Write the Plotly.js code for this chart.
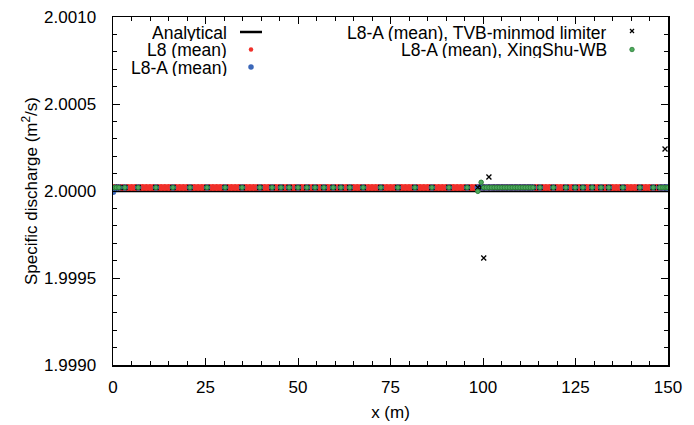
<!DOCTYPE html>
<html>
<head>
<meta charset="utf-8">
<script src="https://cdn.plot.ly/plotly-3.0.1.min.js"></script>
<style>html,body{margin:0;padding:0;background:#fff;}#chart{width:694px;height:425px;}</style>
</head>
<body>
<div id="chart"></div>
<script>
// ---- data ----
const analyticalX = [0, 150];
const analyticalY = [2.0000, 2.0000];

// L8 (mean): uniform mesh, 1 m spacing
const l8X = [0,1,2,3,4,5,6,7,8,9,10,11,12,13,14,15,16,17,18,19,20,21,22,23,24,25,26,27,28,29,30,31,32,33,34,35,36,37,38,39,40,41,42,43,44,45,46,47,48,49,50,51,52,53,54,55,56,57,58,59,60,61,62,63,64,65,66,67,68,69,70,71,72,73,74,75,76,77,78,79,80,81,82,83,84,85,86,87,88,89,90,91,92,93,94,95,96,97,98,99,100,101,102,103,104,105,106,107,108,109,110,111,112,113,114,115,116,117,118,119,120,121,122,123,124,125,126,127,128,129,130,131,132,133,134,135,136,137,138,139,140,141,142,143,144,145,146,147,148,149,150];
const l8Y = [2.00002,2.00002,2.00002,2.00002,2.00002,2.00002,2.00002,2.00002,2.00002,2.00002,2.00002,2.00002,2.00002,2.00002,2.00002,2.00002,2.00002,2.00002,2.00002,2.00002,2.00002,2.00002,2.00002,2.00002,2.00002,2.00002,2.00002,2.00002,2.00002,2.00002,2.00002,2.00002,2.00002,2.00002,2.00002,2.00002,2.00002,2.00002,2.00002,2.00002,2.00002,2.00002,2.00002,2.00002,2.00002,2.00002,2.00002,2.00002,2.00002,2.00002,2.00002,2.00002,2.00002,2.00002,2.00002,2.00002,2.00002,2.00002,2.00002,2.00002,2.00002,2.00002,2.00002,2.00002,2.00002,2.00002,2.00002,2.00002,2.00002,2.00002,2.00002,2.00002,2.00002,2.00002,2.00002,2.00002,2.00002,2.00002,2.00002,2.00002,2.00002,2.00002,2.00002,2.00002,2.00002,2.00002,2.00002,2.00002,2.00002,2.00002,2.00002,2.00002,2.00002,2.00002,2.00002,2.00002,2.00002,2.00002,2.00002,2.00002,2.00002,2.00002,2.00002,2.00002,2.00002,2.00002,2.00002,2.00002,2.00002,2.00002,2.00002,2.00002,2.00002,2.00002,2.00002,2.00002,2.00002,2.00002,2.00002,2.00002,2.00002,2.00002,2.00002,2.00002,2.00002,2.00002,2.00002,2.00002,2.00002,2.00002,2.00002,2.00002,2.00002,2.00002,2.00002,2.00002,2.00002,2.00002,2.00002,2.00002,2.00002,2.00002,2.00002,2.00002,2.00002,2.00002,2.00002,2.00002,2.00002,2.00002,2.00002];

// L8-A adaptive mesh
const meshX = [0,0.4,0.9,1.6,3.2,6.8,11.6,16.2,20.8,25.4,30.3,34.9,39.7,43,45.4,47.6,50,52.4,54.6,57,59.5,61.6,64,67.6,72.4,77,81.6,86.2,90.8,95.7,98.6,99.5,100.2,100.9,101.6,102.3,103,103.7,104.4,105.1,105.8,106.5,107.2,107.9,108.6,109.3,110,110.7,111.4,112.1,112.8,113.5,115.4,119,122.4,124.9,127,129.5,131.9,134,137.8,142.4,146,147.8,148.6,149.2,149.7,150];
const l8aY = [1.999995,2.00001,2.00002,2.00002,2.00002,2.00002,2.00002,2.00002,2.00002,2.00002,2.00002,2.00002,2.00002,2.00002,2.00002,2.00002,2.00002,2.00002,2.00002,2.00002,2.00002,2.00002,2.00002,2.00002,2.00002,2.00002,2.00002,2.00002,2.00002,2.00002,2.00002,2.00002,2.00002,2.00002,2.00002,2.00002,2.00002,2.00002,2.00002,2.00002,2.00002,2.00002,2.00002,2.00002,2.00002,2.00002,2.00002,2.00002,2.00002,2.00002,2.00002,2.00002,2.00002,2.00002,2.00002,2.00002,2.00002,2.00002,2.00002,2.00002,2.00002,2.00002,2.00002,2.00002,2.00002,2.00002,2.00002,2.00002];
const tvbY = [2.00002,2.00002,2.00002,2.00002,2.00002,2.00002,2.00002,2.00002,2.00002,2.00002,2.00002,2.00002,2.00002,2.00002,2.00002,2.00002,2.00002,2.00002,2.00002,2.00002,2.00002,2.00002,2.00002,2.00002,2.00002,2.00002,2.00002,2.00002,2.00002,2.00002,2.00002,2.00002,1.999615,2.00002,2.00008,2.00002,2.00002,2.00002,2.00002,2.00002,2.00002,2.00002,2.00002,2.00002,2.00002,2.00002,2.00002,2.00002,2.00002,2.00002,2.00002,2.00002,2.00002,2.00002,2.00002,2.00002,2.00002,2.00002,2.00002,2.00002,2.00002,2.00002,2.00002,2.00002,2.00002,2.000241,2.00002,2.00002];
const xsY = [2.00002,2.00002,2.00002,2.00002,2.00002,2.00002,2.00002,2.00002,2.00002,2.00002,2.00002,2.00002,2.00002,2.00002,2.00002,2.00002,2.00002,2.00002,2.00002,2.00002,2.00002,2.00002,2.00002,2.00002,2.00002,2.00002,2.00002,2.00002,2.00002,2.00002,1.999998,2.00005,2.00002,2.00002,2.00002,2.00002,2.00002,2.00002,2.00002,2.00002,2.00002,2.00002,2.00002,2.00002,2.00002,2.00002,2.00002,2.00002,2.00002,2.00002,2.00002,2.00002,2.00002,2.00002,2.00002,2.00002,2.00002,2.00002,2.00002,2.00002,2.00002,2.00002,2.00002,2.00002,2.00002,2.00002,2.00002,2.00002];

const legendLabels = ["Analytical", "L8 (mean)", "L8-A (mean)", "L8-A (mean), TVB-minmod limiter", "L8-A (mean), XingShu-WB"];
const xTicks = [0, 25, 50, 75, 100, 125, 150];
const yTicks = [1.9990, 1.9995, 2.0000, 2.0005, 2.0010];

// ---- styling ----
const RED = '#f0302a', BLUE = '#3b67b9', GREEN = '#4cab5b', DKGREEN = '#2e7d3c';
const FONT = 'Liberation Sans, Arial, Helvetica, sans-serif';

const traces = [
  {x: analyticalX, y: analyticalY, mode: 'lines', line: {color: '#000', width: 2.5}, showlegend: false, hoverinfo: 'skip'},
  {x: l8X, y: l8Y, mode: 'markers', marker: {color: RED, size: 7, line: {width: 0}}, showlegend: false},
  {x: meshX, y: l8aY, mode: 'markers', marker: {color: BLUE, size: 6.5, line: {width: 0}}, showlegend: false},
  {x: meshX, y: tvbY, mode: 'markers', marker: {symbol: 'x-thin', color: '#000', size: 5, line: {color: '#000', width: 1.3}}, showlegend: false},
  {x: meshX, y: xsY, mode: 'markers', marker: {color: GREEN, size: 4.5, line: {color: DKGREEN, width: 1}}, showlegend: false}
];

// plot area in pixels
const L = 113, R = 668, T = 17, B = 365;
const px = v => (v - L) / (R - L);
const py = v => (B - v) / (B - T);

const annotations = [];
const shapes = [];
const leg = [
  {lab: legendLabels[0], tx: 228, y: 32, sx: 251, kind: 'line'},
  {lab: legendLabels[1], tx: 228, y: 49.5, sx: 251, kind: 'dot', c: RED, d: 4.5},
  {lab: legendLabels[2], tx: 228, y: 67, sx: 251, kind: 'dot', c: BLUE, d: 5.5},
  {lab: legendLabels[3], tx: 608, y: 32, sx: 632, kind: 'x'},
  {lab: legendLabels[4], tx: 608, y: 49.5, sx: 632, kind: 'dot', c: GREEN, d: 4.5, lc: DKGREEN}
];
leg.forEach(e => {
  annotations.push({xref: 'paper', yref: 'paper', x: px(e.tx), y: py(e.y), xanchor: 'right', yanchor: 'middle',
    text: e.lab, showarrow: false, borderpad: 0, height: 17, valign: 'middle',
    font: {family: FONT, size: 17.5, color: '#000'}});
  if (e.kind === 'line') {
    shapes.push({type: 'line', xref: 'paper', yref: 'paper', x0: px(e.sx - 11), x1: px(e.sx + 11), y0: py(e.y), y1: py(e.y), line: {color: '#000', width: 2.5}});
  } else if (e.kind === 'dot') {
    const r = e.d / 2;
    shapes.push({type: 'circle', xref: 'paper', yref: 'paper', x0: px(e.sx - r), x1: px(e.sx + r), y0: py(e.y + r), y1: py(e.y - r),
      fillcolor: e.c, line: {color: e.lc || e.c, width: e.lc ? 0.8 : 0}});
  } else {
    const r = 2;
    shapes.push({type: 'line', xref: 'paper', yref: 'paper', x0: px(e.sx - r), x1: px(e.sx + r), y0: py(e.y - 1 - r), y1: py(e.y - 1 + r), line: {color: '#000', width: 1.2}});
    shapes.push({type: 'line', xref: 'paper', yref: 'paper', x0: px(e.sx - r), x1: px(e.sx + r), y0: py(e.y - 1 + r), y1: py(e.y - 1 - r), line: {color: '#000', width: 1.2}});
  }
});

const axisCommon = {
  showgrid: false, zeroline: false, showline: true, linecolor: '#000', linewidth: 1.5,
  mirror: 'allticks', ticks: 'inside', ticklen: 7, tickwidth: 1, tickcolor: '#000',
  tickfont: {family: FONT, size: 17, color: '#000'}, automargin: false
};

const layout = {
  width: 694, height: 425,
  margin: {l: L, r: 694 - R, t: T, b: 425 - B, pad: 0},
  paper_bgcolor: '#fff', plot_bgcolor: '#fff',
  showlegend: false,
  font: {family: FONT, size: 17, color: '#000'},
  xaxis: Object.assign({}, axisCommon, {
    range: [0, 150], tickmode: 'array', tickvals: xTicks, ticktext: xTicks.map(String),
    minor: {dtick: 5, tick0: 0, ticks: 'inside', ticklen: 4, tickcolor: '#000', tickwidth: 1},
    ticklabelstandoff: 6,
    title: {text: 'x (m)', font: {family: FONT, size: 17, color: '#000'}, standoff: 10}
  }),
  yaxis: Object.assign({}, axisCommon, {
    range: [1.9990, 2.0010], tickmode: 'array', tickvals: yTicks, ticktext: yTicks.map(v => v.toFixed(4)),
    minor: {dtick: 0.0001, tick0: 1.999, ticks: 'inside', ticklen: 4, tickcolor: '#000', tickwidth: 1},
    ticklabelstandoff: 12,
    title: {text: 'Specific discharge (m<sup>2</sup>/s)', font: {family: FONT, size: 17, color: '#000'}, standoff: 2}
  }),
  annotations: annotations,
  shapes: shapes
};

Plotly.newPlot('chart', traces, layout, {displayModeBar: false, staticPlot: true});
</script>
</body>
</html>
